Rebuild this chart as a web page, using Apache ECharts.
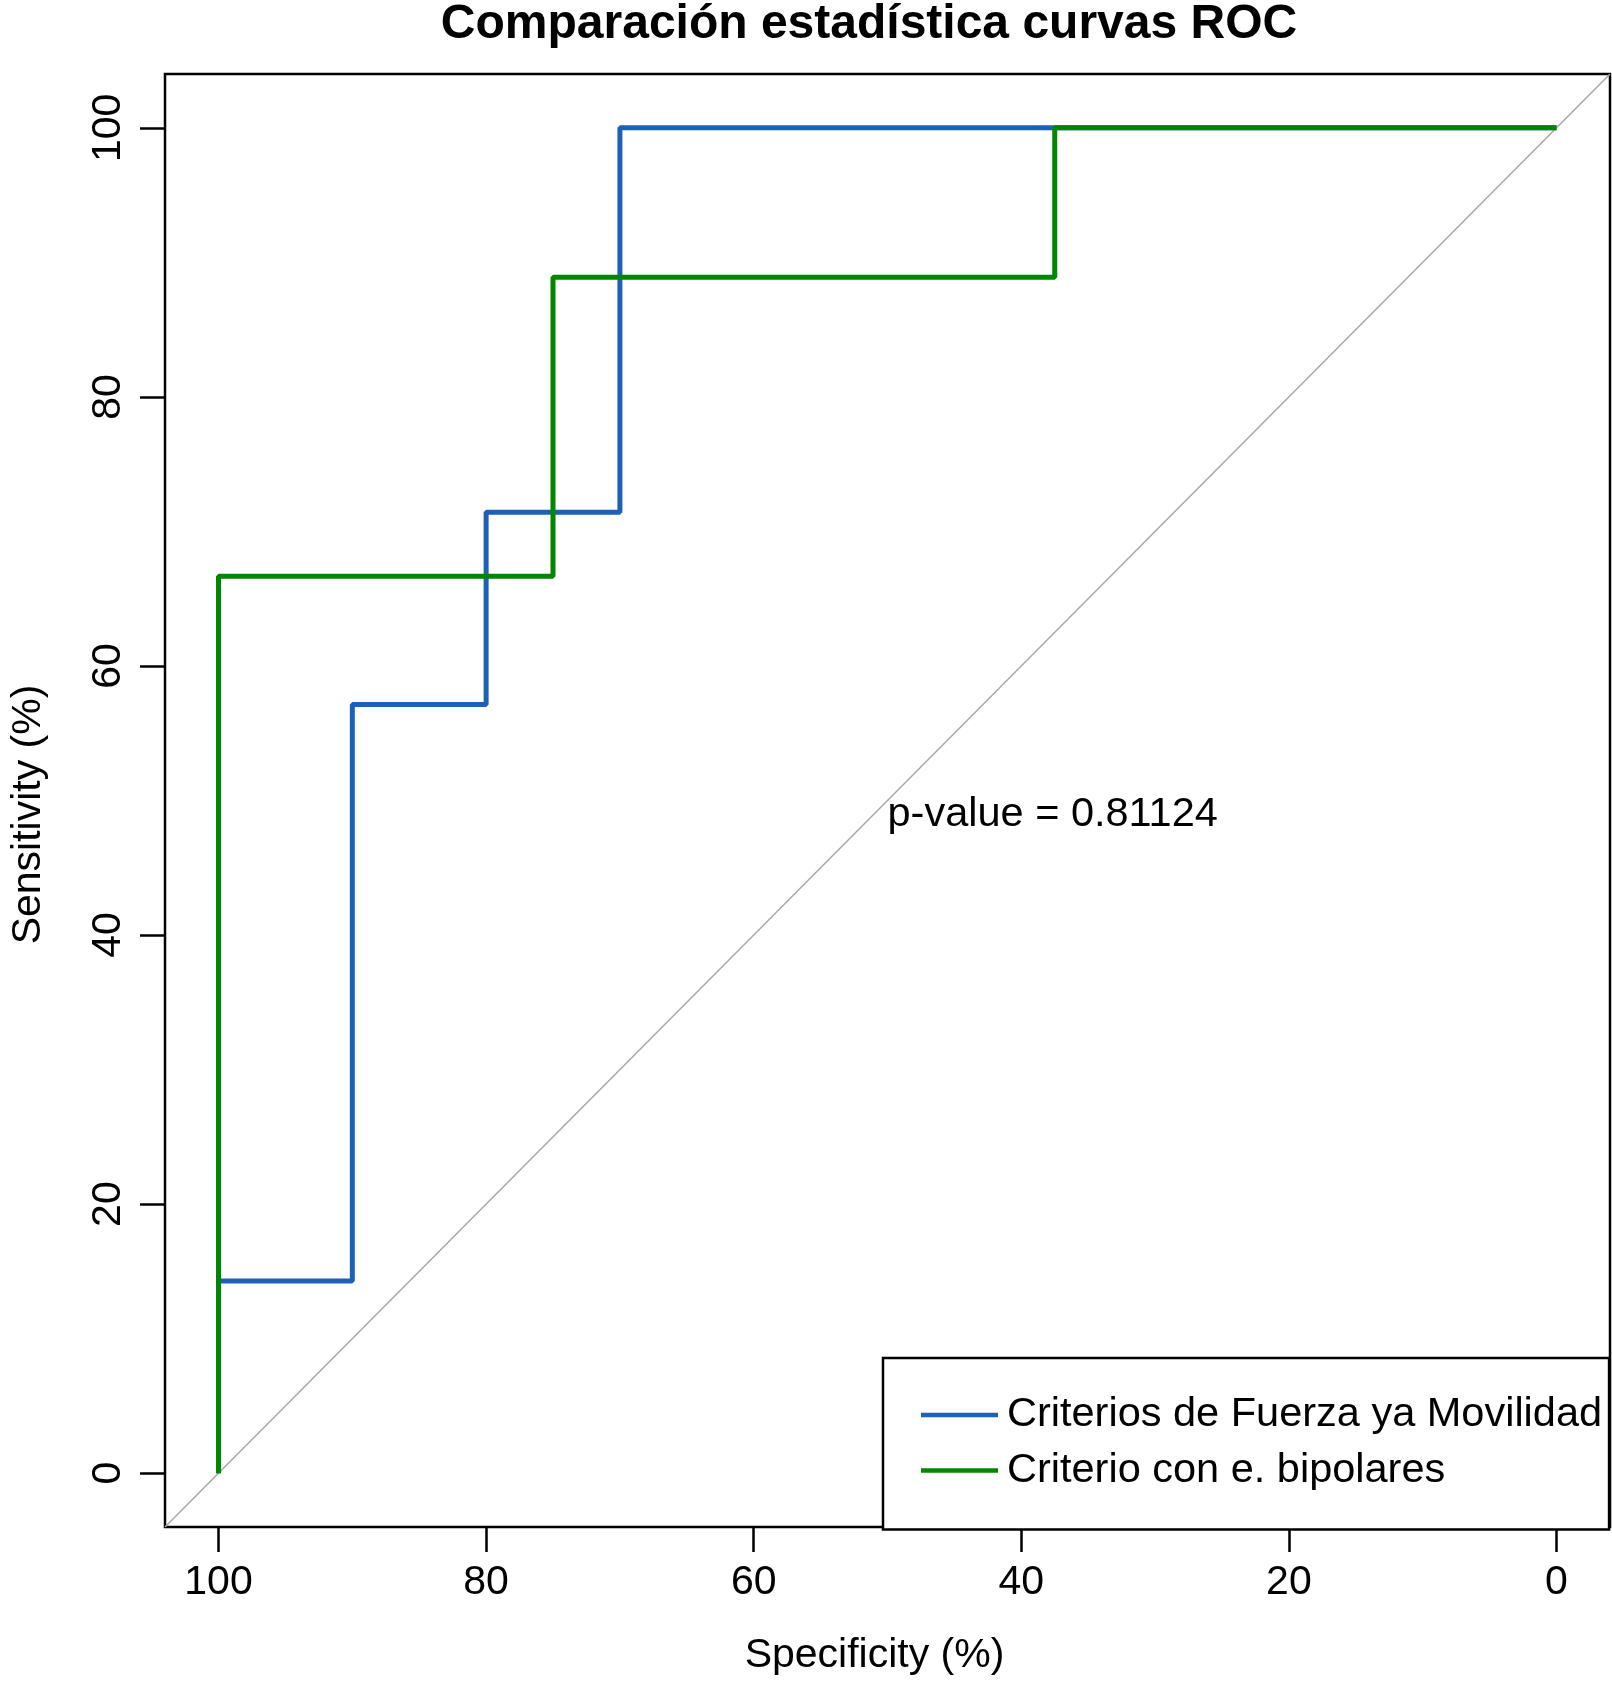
<!DOCTYPE html>
<html>
<head>
<meta charset="utf-8">
<script src="https://cdn.jsdelivr.net/npm/echarts@6/dist/echarts.min.js"></script>
<style>
  html, body { margin: 0; padding: 0; background: #fff; }
  #chart { width: 1612px; height: 1681px; }
</style>
</head>
<body>
<div id="chart"></div>
<script>
// ---- data ----
const titleText = 'Comparación estadística curvas ROC';
const xName = 'Specificity (%)';
const yName = 'Sensitivity (%)';
const xTicks = [0, 20, 40, 60, 80, 100];
const yTicks = [0, 20, 40, 60, 80, 100];
const axisMin = -4;
const axisMax = 104;

const seriesNames = ['Criterios de Fuerza ya Movilidad', 'Criterio con e. bipolares'];
const blueSpec = [100, 100, 90, 90, 80, 80, 70, 70, 0];
const blueSens = [0, 14.29, 14.29, 57.14, 57.14, 71.43, 71.43, 100, 100];
const greenSpec = [100, 100, 75, 75, 37.5, 37.5, 0];
const greenSens = [0, 66.67, 66.67, 88.89, 88.89, 100, 100];

const pValueText = 'p-value = 0.81124';
const pValuePos = [50, 50];

// ---- chart ----
const FONT = '"Liberation Sans", Arial, Helvetica, sans-serif';
const zip = (a, b) => a.map((v, i) => [v, b[i]]);
const chanceLine = [[axisMax, axisMin], [axisMin, axisMax]];

const chart = echarts.init(document.getElementById('chart'), null, { renderer: 'canvas' });

const titleGraphic = {
  id: 'title', type: 'text', x: 869, y: 1,
  style: { text: titleText, font: 'bold 48px ' + FONT, fill: '#000', align: 'center', verticalAlign: 'top' }
};

chart.setOption({
  animation: false,
  backgroundColor: '#ffffff',
  textStyle: { fontFamily: FONT },
  grid: {
    left: 157, right: 2, top: 74, bottom: 152,
    show: true, borderColor: '#000', borderWidth: 2.5, backgroundColor: 'transparent'
  },
  graphic: [titleGraphic],
  legend: {
    orient: 'vertical',
    left: 883, top: 1358,
    padding: [36, 7, 38, 38],
    itemWidth: 77, itemHeight: 4.5, itemGap: 13.5,
    icon: 'rect',
    borderColor: '#000', borderWidth: 2.5,
    backgroundColor: '#fff',
    textStyle: { fontSize: 41.5, color: '#000', fontFamily: FONT, lineHeight: 41.5, padding: [0, 0, 0, 4] },
    data: seriesNames
  },
  xAxis: {
    type: 'value', min: axisMin, max: axisMax, inverse: true,
    name: xName, nameLocation: 'middle', nameGap: 108,
    nameTextStyle: { fontSize: 41, color: '#000', fontFamily: FONT, padding: [0, 26, 0, 0] },
    splitLine: { show: false },
    axisLine: { show: false, onZero: false },
    axisTick: { show: true, customValues: xTicks, length: 25, inside: false, lineStyle: { color: '#000', width: 2.5 } },
    axisLabel: { show: true, customValues: xTicks, fontSize: 41, color: '#000', margin: 35, fontFamily: FONT }
  },
  yAxis: {
    type: 'value', min: axisMin, max: axisMax,
    name: yName, nameLocation: 'middle', nameGap: 116,
    nameTextStyle: { fontSize: 41, color: '#000', fontFamily: FONT, padding: [0, 28, 0, 0] },
    splitLine: { show: false },
    axisLine: { show: false, onZero: false },
    axisTick: { show: true, customValues: yTicks, length: 25, inside: false, lineStyle: { color: '#000', width: 2.5 } },
    axisLabel: { show: true, customValues: yTicks, fontSize: 41, color: '#000', margin: 36, rotate: 90, fontFamily: FONT }
  },
  series: [
    {
      name: 'chance', type: 'line', data: chanceLine, showSymbol: false, silent: true,
      lineStyle: { color: '#A8A8A8', width: 1.5 }, z: 1
    },
    {
      name: seriesNames[0], type: 'line', data: zip(blueSpec, blueSens), showSymbol: false,
      lineStyle: { color: '#1c61b6', width: 5 }, itemStyle: { color: '#1c61b6' }, z: 2
    },
    {
      name: seriesNames[1], type: 'line', data: zip(greenSpec, greenSens), showSymbol: false,
      lineStyle: { color: '#008600', width: 5 }, itemStyle: { color: '#008600' }, z: 3
    }
  ]
});

// p-value annotation placed at data coordinates through the chart's own scales
const pPix = chart.convertToPixel({ gridIndex: 0 }, pValuePos);
chart.setOption({
  graphic: [
    titleGraphic,
    {
      id: 'pvalue', type: 'text', x: pPix[0], y: pPix[1] + 14, z: 10,
      style: { text: pValueText, font: '41.5px ' + FONT, fill: '#000', align: 'left', verticalAlign: 'middle' }
    }
  ]
});
</script>
</body>
</html>
